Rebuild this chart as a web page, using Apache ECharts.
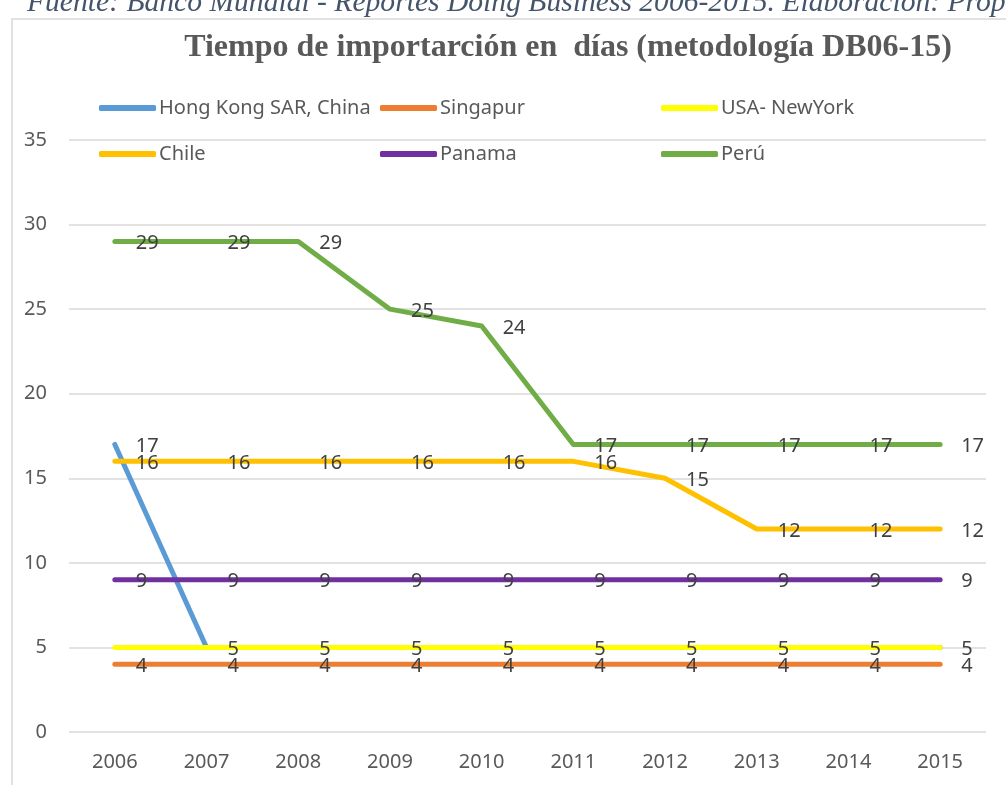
<!DOCTYPE html>
<html>
<head>
<meta charset="utf-8">
<script src="https://cdn.jsdelivr.net/npm/echarts@6/dist/echarts.min.js"></script>
<style>
  html, body { margin: 0; padding: 0; background: #fff; }
  #chart { width: 1006px; height: 785px; }
</style>
</head>
<body>
<div id="chart"></div>
<script>
// datos
var years = ['2006', '2007', '2008', '2009', '2010', '2011', '2012', '2013', '2014', '2015'];
var hongKong = [17, 5, 5, 5, 5, 5, 5, 5, 5, 5];
var singapur = [4, 4, 4, 4, 4, 4, 4, 4, 4, 4];
var usaNY = [5, 5, 5, 5, 5, 5, 5, 5, 5, 5];
var chile = [16, 16, 16, 16, 16, 16, 15, 12, 12, 12];
var panama = [9, 9, 9, 9, 9, 9, 9, 9, 9, 9];
var peru = [29, 29, 29, 25, 24, 17, 17, 17, 17, 17];

var names = ['Hong Kong SAR, China', 'Singapur', 'USA- NewYork', 'Chile', 'Panama', 'Perú'];
var colors = ['#5B9BD5', '#ED7D31', '#FFFF00', '#FFC000', '#7030A0', '#70AD47'];
var values = [hongKong, singapur, usaNY, chile, panama, peru];

var FONT = 'Noto Sans';

function mkSeries(i) {
  var data = values[i].map(function (v, k) {
    // HK: solo se ve la etiqueta de 2006 (el resto queda bajo USA); USA sin etiqueta en 2006
    if ((i == 0 && k > 0) || (i == 2 && k == 0)) {
      return { value: v, label: { show: false } };
    }
    return v;
  });
  return {
    name: names[i],
    type: 'line',
    data: data,
    symbol: 'circle',
    symbolSize: 0,
    showSymbol: true,
    color: colors[i],
    lineStyle: { width: 5, color: colors[i], cap: 'round', join: 'round' },
    label: {
      show: true,
      position: 'right',
      distance: 21,
      offset: [0, 2],
      color: '#404040',
      fontSize: 20,
      fontFamily: FONT
    },
    emphasis: { disabled: true },
    animation: false
  };
}

var legendPos = [[99, 98], [380, 98], [661, 98], [99, 144], [380, 144], [661, 144]];
var legends = [];
for (var i = 0; i < names.length; i++) {
  legends.push({
    data: [names[i]],
    left: legendPos[i][0],
    top: legendPos[i][1],
    padding: 0,
    icon: 'roundRect',
    itemWidth: 57,
    itemHeight: 6,
    textStyle: { color: '#595959', fontSize: 20, fontFamily: FONT, padding: [0, 0, 0, -2] },
    selectedMode: false
  });
}

var series = [];
for (var j = 0; j < names.length; j++) series.push(mkSeries(j));

var chart = echarts.init(document.getElementById('chart'));
chart.setOption({
  backgroundColor: '#fff',
  animation: false,
  title: {
    text: 'Tiempo de importarción en  días (metodología DB06-15)',
    left: 563,
    textAlign: 'center',
    top: 27,
    textStyle: { color: '#595959', fontSize: 32, fontWeight: 'bold', fontFamily: 'Liberation Serif' }
  },
  graphic: [
    {
      type: 'rect',
      shape: { x: 12, y: 19, width: 1100, height: 900 },
      style: { fill: 'none', stroke: '#d9d9d9', lineWidth: 1.5 },
      z: -1
    },
    {
      type: 'text',
      left: 27,
      top: -12,
      style: {
        text: 'Fuente: Banco Mundial - Reportes Doing Business 2006-2015. Elaboración: Propia',
        fill: '#44546A',
        font: 'italic 29.6px "Liberation Serif"'
      }
    }
  ],
  legend: legends,
  grid: { left: 69, right: 20, top: 140, bottom: 53 },
  xAxis: {
    type: 'category',
    data: years,
    boundaryGap: true,
    axisLine: { show: false },
    axisTick: { show: false },
    axisLabel: { color: '#595959', fontSize: 20, fontFamily: FONT, margin: 20 }
  },
  yAxis: {
    type: 'value',
    min: 0,
    max: 35,
    interval: 5,
    axisLine: { show: false },
    axisTick: { show: false },
    axisLabel: { color: '#595959', fontSize: 20, fontFamily: FONT, margin: 22 },
    splitLine: { lineStyle: { color: '#d9d9d9', width: 1.5 } }
  },
  series: series
});
</script>
</body>
</html>
